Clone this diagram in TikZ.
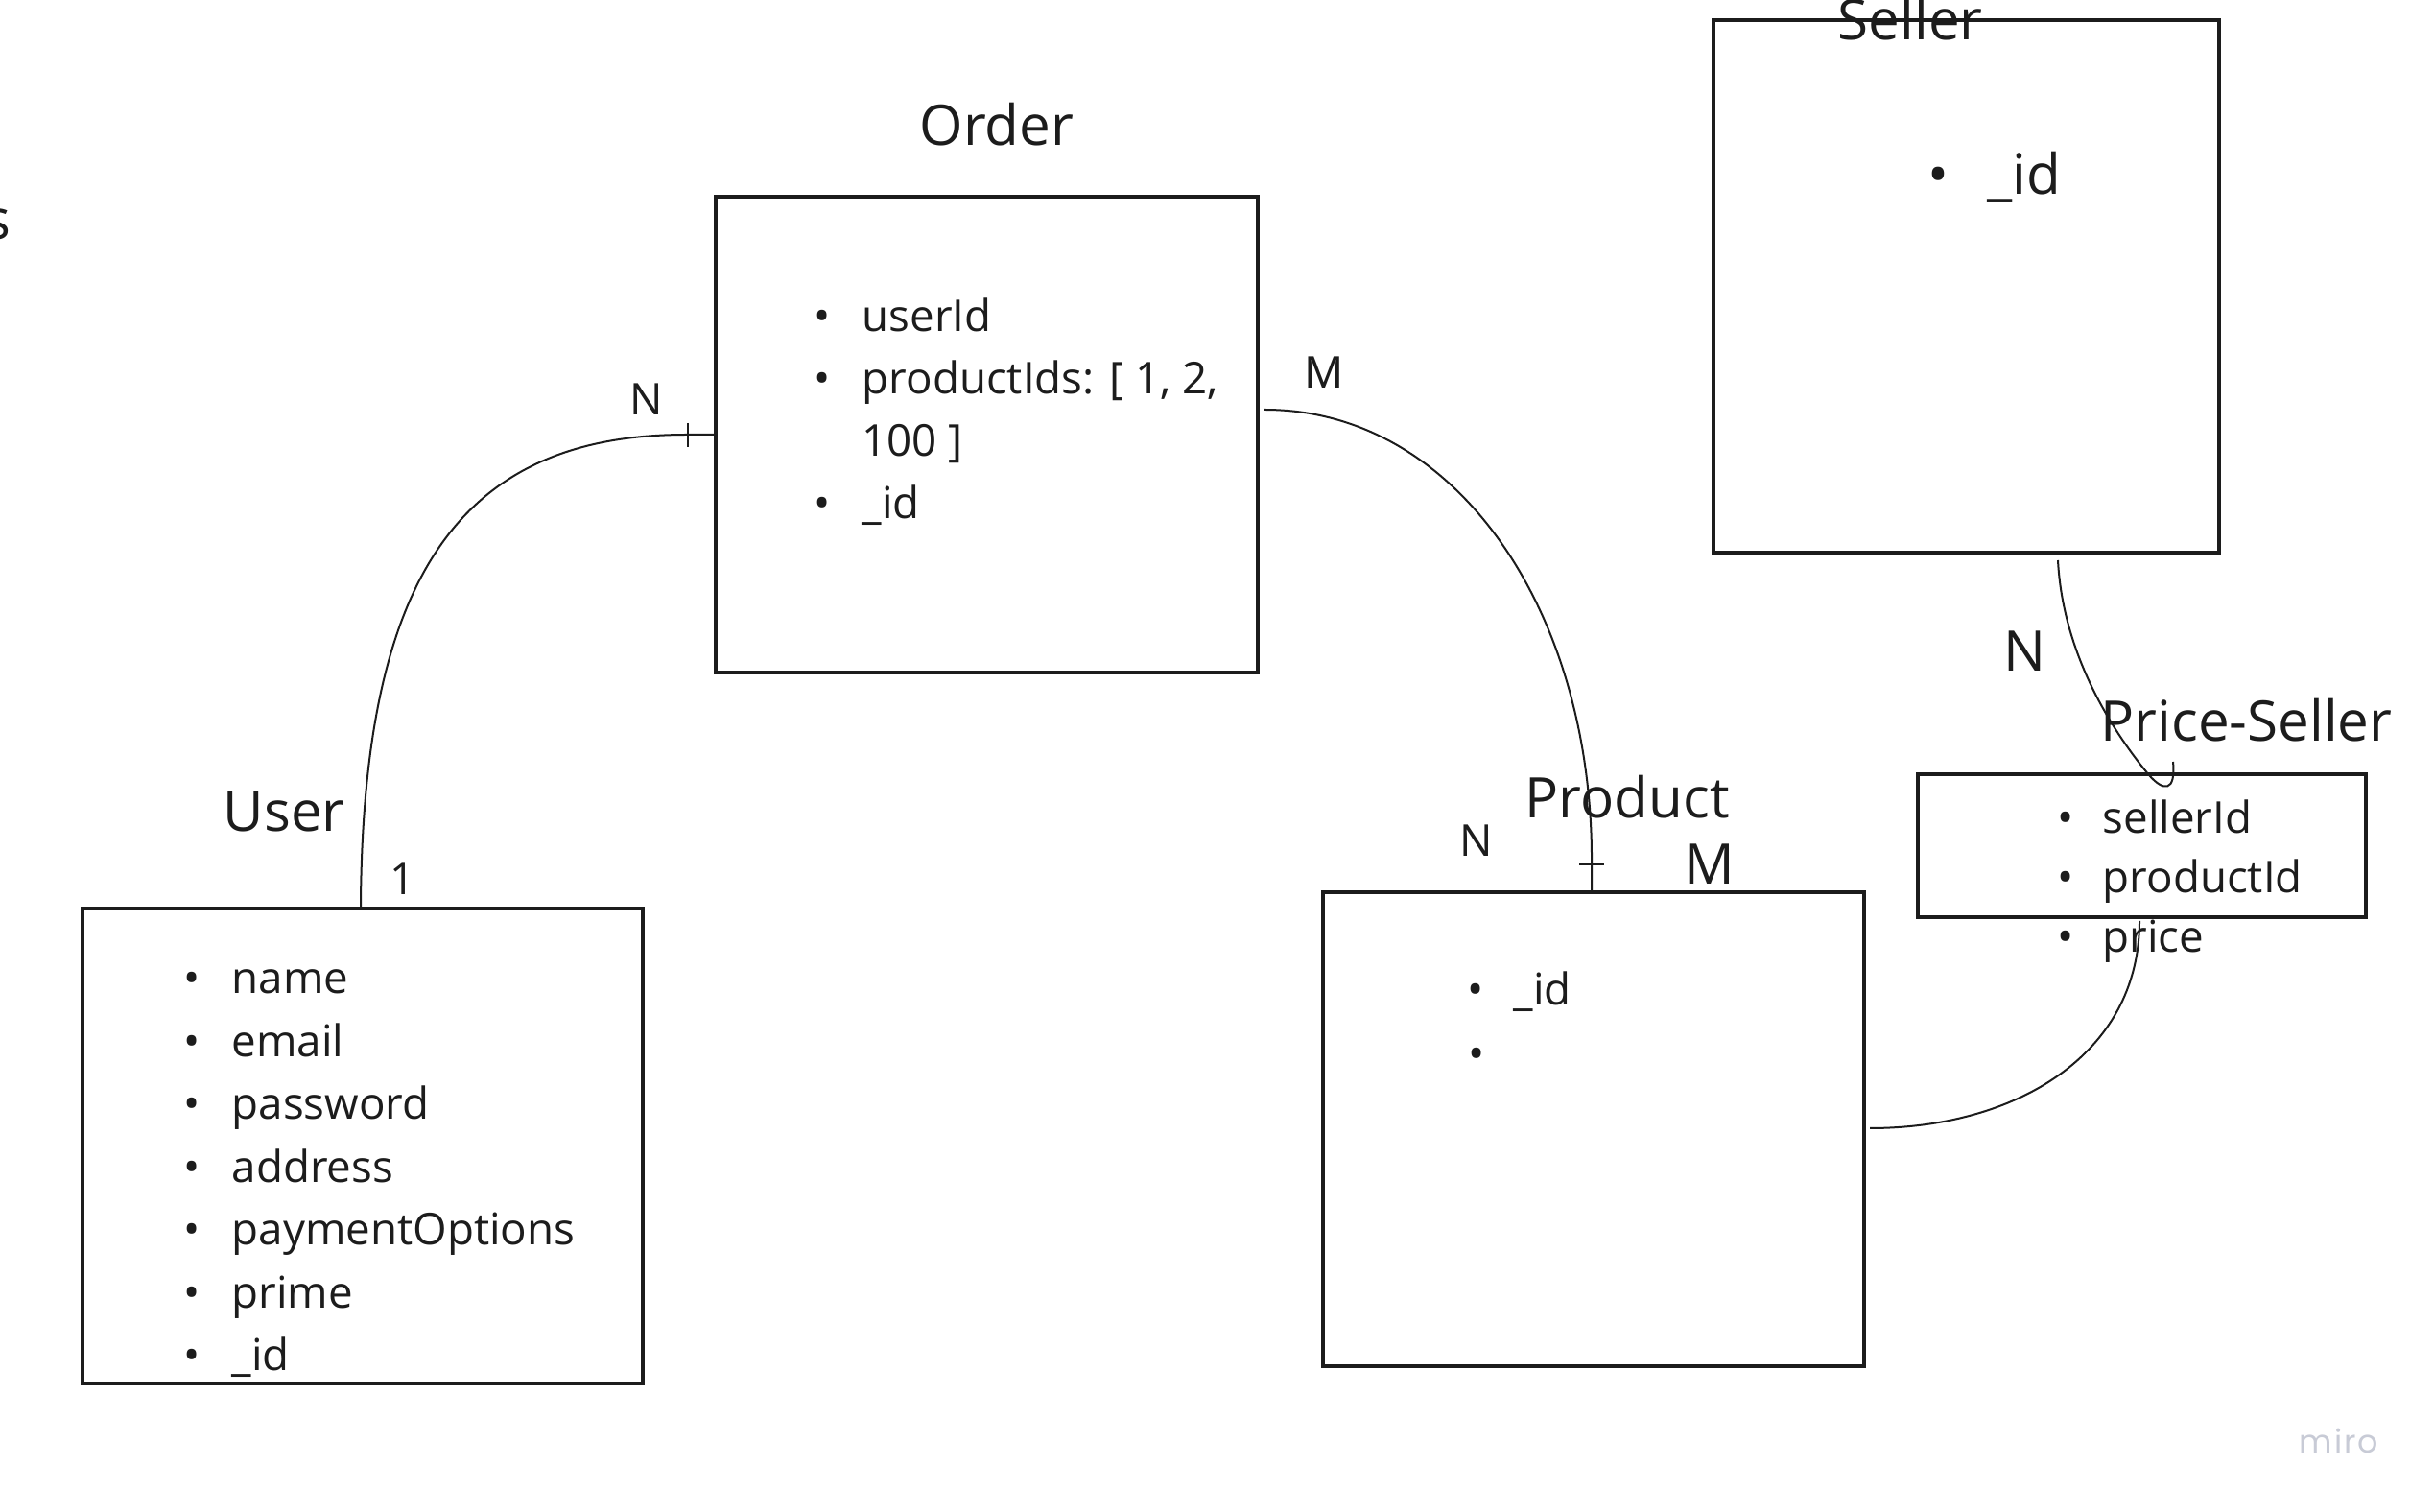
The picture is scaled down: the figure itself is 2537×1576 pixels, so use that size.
\documentclass[tikz,border=0pt]{standalone}
\usepackage{fontspec}
\setmainfont{Open Sans}
\newfontfamily\markfont[LetterSpace=6]{Poppins}
\usetikzlibrary{fit,calc}
\definecolor{ink}{RGB}{28,28,28}
\definecolor{wm}{RGB}{200,203,214}
\newcommand\titlesize{\fontsize{16.6}{20}\selectfont}
\newcommand\itemsize{\fontsize{13.0}{16}\selectfont}
% bullet centred on the anchor, text after a gap of #1
\newcommand\bul[2]{\makebox[0pt]{\textbullet}\hspace{#1}#2}

\begin{document}
\begin{tikzpicture}[x=0.1mm,y=-0.1mm,
  entity/.style={draw=ink,line width=0.4mm,inner sep=0pt,fit={#1}},
  lbl/.style={anchor=base west,inner sep=0pt,text=ink,font=\itemsize},
  big/.style={lbl,font=\titlesize},
  link/.style={draw=ink,line width=0.2mm}]

\fill[white] (0,0) rectangle (2537,1576);
\useasboundingbox (0,0) rectangle (2537,1576);

% entity boxes
\node[entity={(746,205) (1311,701)}] (order) {};
\node[entity={(86,947) (670,1442)}] (user) {};
\node[entity={(1379,930) (1943,1424)}] (product) {};
\node[entity={(1786,21) (2313,576)}] (seller) {};
\node[entity={(1999,807) (2466,956)}] (pricesel) {};

% titles
\node[big] (cut) at (-17,250) {s};
\node[big] (ordertitle) at (958,152) {Order};
\node[big] (usertitle) at (232,867) {User};
\node[big] (producttitle) at (1589,853) {Product};
\node[big] (sellertitle) at (1915,42) {Seller};
\node[big] (pstitle) at (2189,773) {Price-Seller};

% cardinalities
\node[lbl] (cardN1) at (656,433) {N};
\node[lbl] (cardM1) at (1359,405) {M};
\node[lbl] (cardN2) at (1521,893) {N};
\node[lbl] (card1) at (406,933) {1};
\node[big] (cardN3) at (2088,700) {N};
\node[big] (cardM2) at (1755,922) {M};

% Order fields
\node[lbl] (o1) at (856,346) {\bul{4.2mm}{userId}};
\node[lbl] (o2) at (856,411) {\bul{4.2mm}{productIds: [ 1, 2,}};
\node[lbl] (o3) at (898,476) {100 ]};
\node[lbl] (o4) at (856,541) {\bul{4.2mm}{\_id}};

% User fields
\foreach \t [count=\i] in {name,email,password,address,paymentOptions,prime,\_id}
  \node[lbl] (u\i) at ({199},{1036+65.5*(\i-1)}) {\bul{4.2mm}{\t}};

% Product fields
\node[lbl] (p1) at (1537,1048) {\bul{4.0mm}{\_id}};
\node[lbl] (p2) at (1537,1115) {\bul{4.0mm}{}};

% Seller fields
\node[big] (s1) at (2020,203) {\bul{5.1mm}{\_id}};

% Price-Seller fields
\node[lbl] (ps1) at (2152,869) {\bul{3.9mm}{sellerId}};
\node[lbl] (ps2) at (2152,931) {\bul{3.9mm}{productId}};
\node[lbl] (ps3) at (2152,993) {\bul{3.9mm}{price}};

% User -- Order
\draw[link] ($(user.north west)+(292,0)$) .. controls (378,600) and (480,453) .. ($(order.west)+(-28,0)$) -- (order.west);
\draw[link] ($(order.west)+(-27,-12)$) -- ($(order.west)+(-27,13)$);

% Order -- Product
\draw[link] ($(order.east)+(5,-26)$) .. controls (1520,427) and (1661,640) .. ($(product.north west)+(282,-27)$) -- ($(product.north west)+(282,0)$);
\draw[link] ($(product.north west)+(269,-27)$) -- ($(product.north west)+(295,-27)$);

% Seller -- Price-Seller
\draw[link] ($(seller.south west)+(361,6)$) .. controls (2150,680) and (2200,760) .. (2240,808) .. controls (2255,825) and (2268,826) .. ($(pricesel.north west)+(268,-11)$);

% Product -- Price-Seller
\draw[link] ($(product.east)+(4,-1)$) .. controls (2100,1176) and (2230,1100) .. ($(pricesel.south west)+(233,2)$);

% board watermark
\node[anchor=base west,inner sep=0pt,text=wm,font=\markfont\fontsize{9.5}{11}\selectfont] (brand) at (2396,1515) {miro};
\end{tikzpicture}
\end{document}
